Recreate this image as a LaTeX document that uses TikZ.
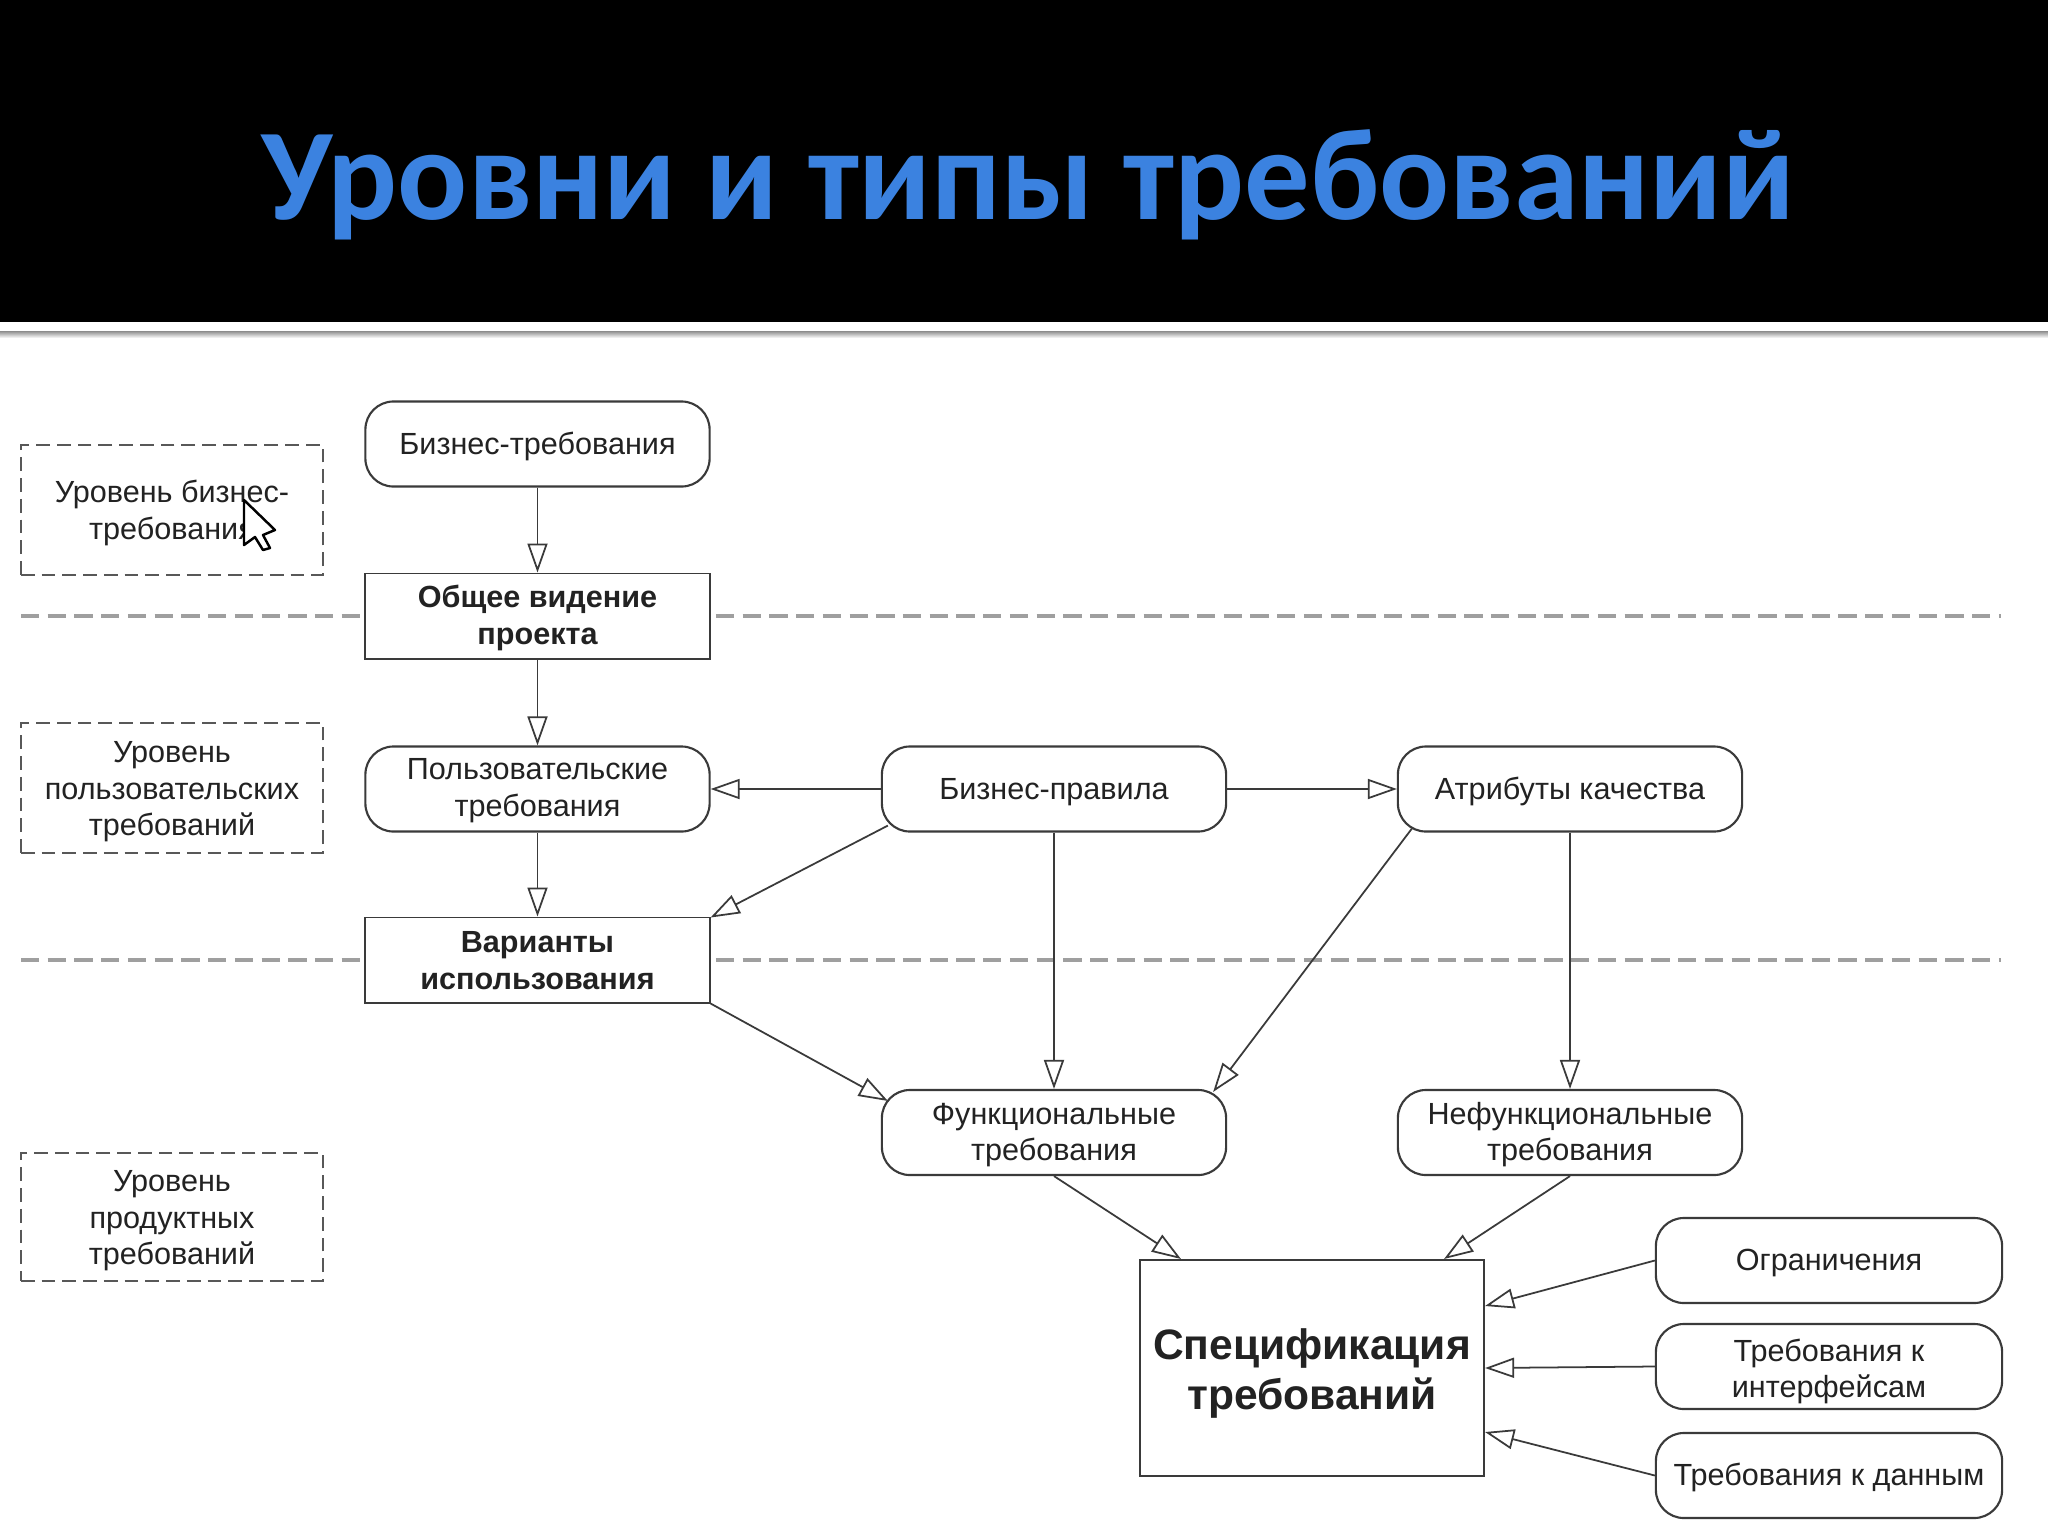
\documentclass[tikz,border=0pt]{standalone}
\usepackage{fontspec}
\setmainfont{Liberation Sans}
\newfontfamily\titlefont{Carlito}
\usetikzlibrary{arrows.meta,positioning}
\definecolor{titleblue}{HTML}{3B82E0}
\definecolor{ln}{HTML}{3A3A3A}
\definecolor{txt}{HTML}{222222}
\newcommand\dn[2][.38em]{\raisebox{-#1}[0pt][0pt]{\begin{tabular}{@{}c@{}}#2\end{tabular}}}
\tikzset{
  x=0.01cm,y=-0.01cm,
  rl/.store in=\rlh, rl=0pt,
  every node/.style={text=txt,font=\fontsize{8.7}{10.4}\selectfont,inner sep=0pt,execute at begin node={\rule{0pt}{\rlh}}},
  soft/.style={draw=ln,line width=0.6pt,rounded corners=0.28cm,fill=white,minimum width=3.44cm,minimum height=0.85cm},
  hard/.style={draw=ln,line width=0.55pt,fill=white,minimum width=3.44cm,minimum height=0.85cm,font=\fontsize{8.7}{10.4}\selectfont\bfseries},
  level/.style={draw=ln!85,dash pattern=on 3.9pt off 2pt,line width=0.6pt,minimum width=3.02cm,fill=white},
  sep/.style={draw=gray!75,dash pattern=on 5.2pt off 2.4pt,line width=1pt},
  flow/.style={draw=ln,line width=0.5pt,-{Triangle[length=0.29cm,width=0.2cm,fill=white]}},
}
\begin{document}
\begin{tikzpicture}
\useasboundingbox (0,0) rectangle (2048,1536);
\fill[white] (0,0) rectangle (2048,1536);
\fill[black] (0,0) rectangle (2048,322);
\shade[top color=gray!90,bottom color=white] (0,331) rectangle (2048,338);
\node[rl=1em,text=titleblue,font=\titlefont\fontsize{37.1}{40}\selectfont\bfseries] (title) at (1028,165) {Уровни и типы требований};
\coordinate (sepaL) at (21,616); \coordinate (sepaR) at (2001,616);
\coordinate (sepbL) at (21,960); \coordinate (sepbR) at (2001,960);
\draw[sep] (sepaL) -- (sepaR);
\draw[sep] (sepbL) -- (sepbR);
\node[level,minimum height=1.30cm] (lvlA) at (172,510) {\dn{Уровень бизнес-\\требования}};
\node[level,minimum height=1.30cm] (lvlB) at (172,788) {\dn{Уровень\\пользовательских\\требований}};
\node[level,minimum height=1.28cm] (lvlC) at (172,1217) {\dn{Уровень\\продуктных\\требований}};
\node[soft,rl=.87em] (biz) at (537.5,444) {Бизнес-требования};
\node[hard] (vis) at (537.5,616) {\dn[.34em]{Общее видение\\проекта}};
\node[soft] (usr) at (537.5,789) {\dn[.32em]{Пользовательские\\требования}};
\node[hard] (uc) at (537.5,960) {\dn{Варианты\\использования}};
\node[soft,rl=.87em] (rules) at (1054,789) {Бизнес-правила};
\node[soft,rl=.87em] (attr) at (1570,789) {Атрибуты качества};
\node[soft] (func) at (1054,1132.5) {\dn[.34em]{Функциональные\\требования}};
\node[soft] (nf) at (1570,1132.5) {\dn[.34em]{Нефункциональные\\требования}};
\node[hard,minimum width=3.44cm,minimum height=2.16cm,font=\fontsize{12.1}{14.2}\selectfont\bfseries] (spec) at (1312,1368) {\dn[.39em]{Спецификация\\требований}};
\node[soft,rl=.87em,minimum width=3.46cm] (ogr) at (1829,1260.5) {Ограничения};
\node[soft,minimum width=3.46cm] (intf) at (1829,1366.5) {\dn[.45em]{Требования к\\интерфейсам}};
\node[soft,rl=.87em,minimum width=3.46cm] (data) at (1829,1475.5) {Требования к данным};
\draw[flow] (biz.south) -- (vis.north);
\draw[flow] (vis.south) -- (usr.north);
\draw[flow] (usr.south) -- (uc.north);
\draw[flow] (rules.west) -- (usr.east);
\draw[flow] (rules.east) -- (attr.west);
\draw[flow] ([xshift=0.07cm,yshift=0.07cm]rules.south west) -- ([yshift=-0.01cm]uc.north east);
\draw[flow] (rules.south) -- (func.north);
\draw[flow] ([xshift=0.15cm,yshift=0.04cm]attr.south west) -- ([xshift=-0.14cm,yshift=-0.03cm]func.north east);
\draw[flow] (attr.south) -- (nf.north);
\draw[flow] (uc.south east) -- ([xshift=0.07cm,yshift=-0.12cm]func.north west);
\draw[flow] (func.south) -- ([xshift=0.42cm]spec.north west);
\draw[flow] (nf.south) -- ([xshift=-0.41cm]spec.north east);
\draw[flow] (ogr.west) -- ([yshift=-0.47cm]spec.north east);
\draw[flow] (intf.west) -- (spec.east);
\draw[flow] (data.west) -- ([yshift=0.45cm]spec.south east);
\filldraw[fill=white,draw=black,line width=0.7pt,line join=round]
  (244,500) -- (244,545) -- (255,537) -- (263,550) -- (270,548) -- (263,535) -- (275,530) -- cycle;
\end{tikzpicture}
\end{document}
